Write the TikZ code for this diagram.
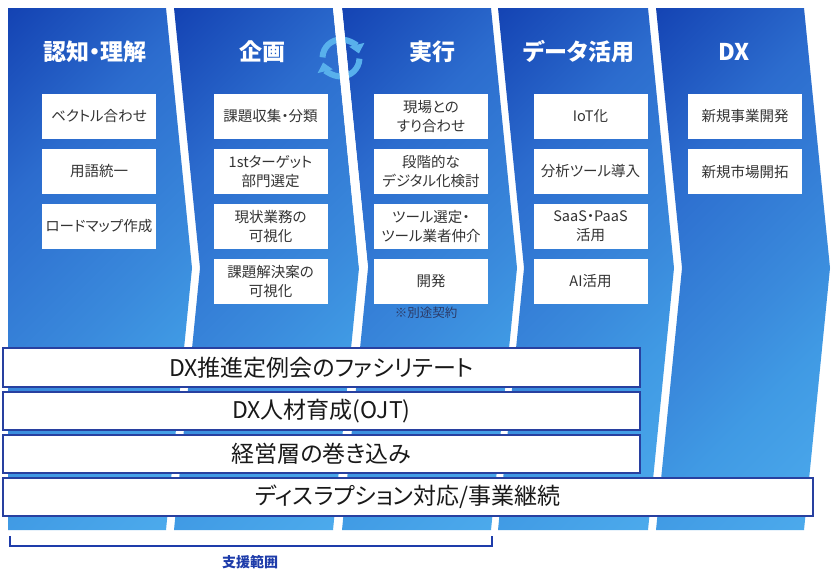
\documentclass[tikz,border=0pt]{standalone}
\usepackage{fontspec}
\setmainfont{Noto Sans CJK JP}[RawFeature={+palt}]
\usetikzlibrary{arrows.meta}
\definecolor{cdark}{HTML}{1443B3}
\definecolor{cmidA}{HTML}{2C6CCE}
\definecolor{cmidB}{HTML}{3A8ADC}
\definecolor{cmidC}{HTML}{409AE4}
\definecolor{clight}{HTML}{4CAAEC}
\definecolor{ringc}{HTML}{58B0EC}
\definecolor{barline}{HTML}{2840A0}
\definecolor{brk}{HTML}{1E3CAA}
\definecolor{boxtext}{HTML}{333333}
\definecolor{notec}{HTML}{2B3A67}
\pgfdeclareverticalshading{colgrad}{100bp}{color(0bp)=(clight); color(33.5bp)=(clight); color(42.1bp)=(cmidC); color(47.2bp)=(cmidB); color(58.2bp)=(cmidA); color(67.8bp)=(cdark); color(100bp)=(cdark)}
\tikzset{
  col/.style={path picture={\shade[shading=colgrad, shading angle=45]
      (path picture bounding box.center) circle[radius=350];}},
  head/.style={text=white, font=\fontsize{23}{27}\selectfont\bfseries, inner sep=0pt},
  box/.style={fill=white, minimum width=114pt, minimum height=45pt, inner sep=0pt,
    align=center, text=boxtext, font=\fontsize{14.5}{19}\selectfont},
  bar/.style={draw=barline, line width=1.5pt, fill=white, inner sep=0pt,
    font=\fontsize{23}{27}\selectfont, text=black!90},
  ringarc/.style={draw=ringc, line width=6pt, -{Triangle[width=15pt,length=9pt]}},
  brace/.style={draw=brk, line width=2.5pt},
  note/.style={text=notec, font=\fontsize{12.5}{15}\selectfont, inner sep=0pt},
  lbl/.style={text=brk, font=\fontsize{14}{17}\selectfont\bfseries, inner sep=0pt}
}
\begin{document}
\begin{tikzpicture}[x=1pt,y=-1pt]
\useasboundingbox[fill=white] (0,0) rectangle (840,581);
% columns
\path[col] (8,8) -- (166,8) -- (192,268) -- (166,530) -- (8,530) -- cycle;
\path[col] (174,8) -- (333,8) -- (359,268) -- (333,530) -- (174,530) -- (200,268) -- cycle;
\path[col] (342,8) -- (491,8) -- (517,268) -- (491,530) -- (342,530) -- (368,268) -- cycle;
\path[col] (498,8) -- (648,8) -- (674,268) -- (648,530) -- (498,530) -- (524,268) -- cycle;
\path[col] (656,8) -- (804,8) -- (830,268) -- (804,530) -- (656,530) -- (682,268) -- cycle;
% cycle icon
\begin{scope}[shift={(341,58)}, yscale=-1]
  \draw[ringarc] (178:18.5) arc[start angle=178, end angle=14, radius=18.5];
  \draw[ringarc] (-2:18.5) arc[start angle=-2, end angle=-166, radius=18.5];
\end{scope}
\fill[white] (333,8) -- (342,8) -- (368,268) -- (359,268) -- cycle;
% headers
\node[head] (h1) at (95,52) {認知・理解};
\node[head] (h2) at (262,52) {企画};
\node[head] (h3) at (432,52) {実行};
\node[head] (h4) at (579,52) {データ活用};
\node[head] (h5) at (734,52) {DX};
% column 1
\node[box] (a1) at (99,116.5) {ベクトル合わせ};
\node[box] (a2) at (99,171.5) {用語統一};
\node[box] (a3) at (99,226.5) {ロードマップ作成};
% column 2
\node[box] (b1) at (270.5,116.5) {課題収集・分類};
\node[box] (b2) at (270.5,171.5) {1stターゲット\\部門選定};
\node[box] (b3) at (270.5,226.5) {現状業務の\\可視化};
\node[box] (b4) at (270.5,281.5) {課題解決案の\\可視化};
% column 3
\node[box] (c1) at (431,116.5) {現場との\\すり合わせ};
\node[box] (c2) at (431,171.5) {段階的な\\デジタル化検討};
\node[box] (c3) at (431,226.5) {ツール選定・\\ツール業者仲介};
\node[box] (c4) at (431,281.5) {開発};
\node[note] (n1) at (426,313) {※別途契約};
% column 4
\node[box] (d1) at (590.5,116.5) {IoT化};
\node[box] (d2) at (590.5,171.5) {分析ツール導入};
\node[box] (d3) at (590.5,226.5) {SaaS・PaaS\\活用};
\node[box] (d4) at (590.5,281.5) {AI活用};
% column 5
\node[box] (e1) at (745,116.5) {新規事業開発};
\node[box] (e2) at (745,171.5) {新規市場開拓};
% bars
\node[bar, minimum width=637pt, minimum height=39pt] (r1) at (321.5,367.5) {DX推進定例会のファシリテート};
\node[bar, minimum width=637pt, minimum height=38pt] (r2) at (321.5,411) {DX人材育成(OJT)};
\node[bar, minimum width=637pt, minimum height=38pt] (r3) at (321.5,454) {経営層の巻き込み};
\node[bar, minimum width=810pt, minimum height=38pt] (r4) at (408,497) {ディスラプション対応/事業継続};
% bracket
\coordinate (k1) at (10,536);
\coordinate (k2) at (10,546);
\coordinate (k3) at (492,546);
\coordinate (k4) at (492,536);
\draw[brace] (k1) -- (k2) -- (k3) -- (k4);
\node[lbl] (l1) at (250,562) {支援範囲};
\end{tikzpicture}
\end{document}
